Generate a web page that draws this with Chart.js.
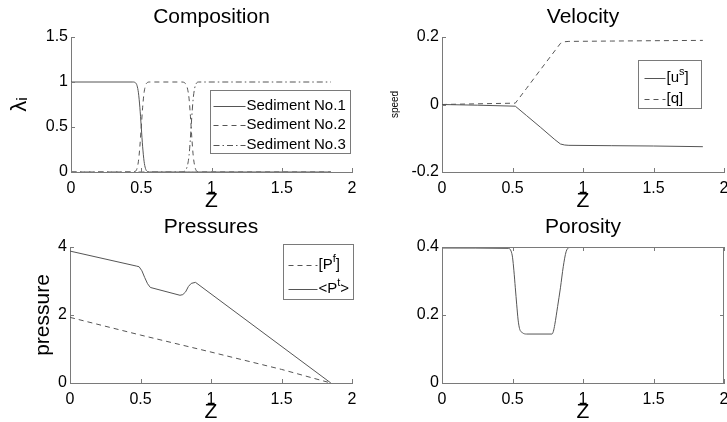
<!DOCTYPE html>
<html><head><meta charset="utf-8">
<script src="https://cdn.jsdelivr.net/npm/chart.js@4.4.1/dist/chart.umd.min.js"></script>
<style>
html,body{margin:0;padding:0;background:#fff;width:727px;height:422px;overflow:hidden}
.p{position:absolute}
canvas{display:block}
</style></head><body>
<div class="p" style="left:0;top:0;width:363px;height:211px"><canvas id="c1" width="363" height="211" style="width:363px;height:211px"></canvas></div>
<div class="p" style="left:363px;top:0;width:364px;height:211px"><canvas id="c2" width="364" height="211" style="width:364px;height:211px"></canvas></div>
<div class="p" style="left:0;top:211px;width:363px;height:211px"><canvas id="c3" width="363" height="211" style="width:363px;height:211px"></canvas></div>
<div class="p" style="left:363px;top:211px;width:364px;height:211px"><canvas id="c4" width="364" height="211" style="width:364px;height:211px"></canvas></div>
<script>
// ---------------- data ----------------
const xTicks = [0, 0.5, 1, 1.5, 2];

const compTitle = 'Composition';
const compYTicks = [0, 0.5, 1, 1.5];
const compLabels = ['Sediment No.1', 'Sediment No.2', 'Sediment No.3'];
const compZ = [0, 0.44, 0.46, 0.47, 0.48, 0.49, 0.50, 0.51, 0.52, 0.53, 0.54, 0.56, 0.79, 0.81, 0.82, 0.83, 0.84, 0.85, 0.855, 0.86, 0.87, 0.88, 0.89, 0.91, 1.85];
const sed1 = [1, 1, 0.99, 0.96, 0.88, 0.72, 0.5, 0.28, 0.12, 0.04, 0.01, 0, 0, 0, 0, 0, 0, 0, 0, 0, 0, 0, 0, 0, 0];
const sed2 = [0, 0, 0.01, 0.04, 0.12, 0.28, 0.5, 0.72, 0.88, 0.96, 0.99, 1, 1, 0.99, 0.97, 0.92, 0.82, 0.62, 0.5, 0.38, 0.18, 0.07, 0.02, 0, 0];
const sed3 = [0, 0, 0, 0, 0, 0, 0, 0, 0, 0, 0, 0, 0, 0.01, 0.03, 0.08, 0.18, 0.38, 0.5, 0.62, 0.82, 0.93, 0.98, 1, 1];

const velTitle = 'Velocity';
const velYTicks = [-0.2, 0, 0.2];
const velLabels = ['[u^s]', '[q]'];
const velZ = [0, 0.25, 0.52, 0.6, 0.7, 0.8, 0.84, 0.87, 0.9, 1.2, 1.5, 1.85];
const velUs = [0, -0.002, -0.005, -0.033, -0.068, -0.104, -0.117, -0.12, -0.121, -0.122, -0.123, -0.125];
const velQ = [0, 0.002, 0.004, 0.048, 0.104, 0.159, 0.181, 0.186, 0.187, 0.188, 0.189, 0.19];

const presTitle = 'Pressures';
const presYTicks = [0, 2, 4];
const presLabels = ['[P^f]', '<P^t>'];
const presZf = [0, 0.5, 1.0, 1.5, 1.85];
const presPf = [1.93, 1.41, 0.91, 0.4, 0];
const presZt = [0, 0.47, 0.49, 0.51, 0.53, 0.55, 0.57, 0.78, 0.80, 0.82, 0.84, 0.86, 0.89, 1.85];
const presPt = [3.88, 3.44, 3.42, 3.3, 3.1, 2.92, 2.81, 2.58, 2.6, 2.68, 2.84, 2.93, 2.96, 0];

const porTitle = 'Porosity';
const porYTicks = [0, 0.2, 0.4];
const porZ = [0, 0.47, 0.49, 0.50, 0.51, 0.52, 0.53, 0.54, 0.55, 0.57, 0.6, 0.78, 0.79, 0.80, 0.82, 0.84, 0.86, 0.88, 0.90, 0.92, 1.85];
const porPhi = [0.397, 0.396, 0.388, 0.37, 0.33, 0.28, 0.23, 0.185, 0.16, 0.148, 0.144, 0.144, 0.152, 0.172, 0.225, 0.28, 0.342, 0.386, 0.398, 0.399, 0.4];

// ---------------- style ----------------
const FONT = "'Liberation Sans', Arial, Helvetica, sans-serif";
Chart.defaults.font.family = FONT;
Chart.defaults.color = '#000';
const AXIS = '#7a7a7a';
const LINE = '#555555';
const DASH = [5, 4];
const DASHDOT = [6, 3, 1.5, 3];
const TICK_SIZE = 16;
const LABEL_SIZE = 21;

function pts(xs, ys) { return xs.map((x, i) => ({x: x, y: ys[i]})); }

function drawRich(ctx, text, x, y, size) {
  // "^c" renders c as superscript
  const parts = text.split(/\^(.)/);
  let cx = x;
  parts.forEach((p, i) => {
    if (!p) return;
    const sup = i % 2 === 1;
    ctx.font = (sup ? Math.round(size * 0.72) : size) + 'px ' + FONT;
    ctx.fillText(p, cx, sup ? y - size * 0.38 : y);
    cx += ctx.measureText(p).width;
  });
}

const matlabAxes = {
  id: 'matlabAxes',
  afterDatasetsDraw(chart, args, opts) {
    const {ctx, chartArea: a} = chart;
    const xs = chart.scales.x, ys = chart.scales.y;
    const L = 4;
    ctx.save();
    ctx.strokeStyle = AXIS;
    ctx.lineWidth = 1;
    ctx.beginPath();
    xs.ticks.forEach(t => {
      const px = Math.round(xs.getPixelForValue(t.value)) + 0.5;
      ctx.moveTo(px, a.bottom); ctx.lineTo(px, a.bottom - L);
      if (opts.box) { ctx.moveTo(px, a.top); ctx.lineTo(px, a.top + L); }
    });
    ys.ticks.forEach(t => {
      const py = Math.round(ys.getPixelForValue(t.value)) + 0.5;
      ctx.moveTo(a.left, py); ctx.lineTo(a.left + L, py);
      if (opts.box) { ctx.moveTo(a.right, py); ctx.lineTo(a.right - L, py); }
    });
    if (opts.box) {
      const t = Math.round(a.top) + 0.5, r = Math.round(a.right) - 0.5;
      ctx.moveTo(a.left, t); ctx.lineTo(r, t); ctx.lineTo(r, a.bottom);
    }
    ctx.stroke();

    const lg = opts.legend;
    if (lg) {
      const bx = Math.round(a.right - lg.right - lg.w) + 0.5;
      const by = Math.round(a.top + lg.top) + 0.5;
      ctx.fillStyle = '#fff';
      ctx.fillRect(bx, by, lg.w, lg.h);
      ctx.strokeStyle = AXIS;
      ctx.strokeRect(bx, by, lg.w, lg.h);
      chart.data.datasets.forEach((ds, i) => {
        const ry = by + lg.row0 + i * lg.gap;
        ctx.strokeStyle = ds.borderColor;
        ctx.lineWidth = 1;
        ctx.setLineDash(ds.borderDash || []);
        ctx.beginPath();
        ctx.moveTo(bx + lg.sx, Math.round(ry) + 0.5);
        ctx.lineTo(bx + lg.sx + lg.sl, Math.round(ry) + 0.5);
        ctx.stroke();
        ctx.setLineDash([]);
        ctx.fillStyle = '#000';
        ctx.textBaseline = 'middle';
        ctx.textAlign = 'left';
        drawRich(ctx, ds.label, bx + lg.sx + lg.sl + 1, ry, 15);
      });
    }
    ctx.restore();
  }
};

function line(label, xs, ys, dash, smooth) {
  return {
    label: label, data: pts(xs, ys), borderColor: LINE, borderWidth: 1,
    borderDash: dash || [], pointRadius: 0, fill: false,
    tension: 0, cubicInterpolationMode: smooth ? 'monotone' : 'default'
  };
}

function options(o) {
  return {
    responsive: false, animation: false, devicePixelRatio: 1,
    layout: {padding: {left: 0, right: o.padRight, top: 0, bottom: 0}},
    plugins: {
      legend: {display: false}, tooltip: {enabled: false},
      title: {display: true, text: o.title, fullSize: false, color: '#000',
              font: {size: LABEL_SIZE, weight: 'normal', lineHeight: 1.2}, padding: o.titlePad},
      matlabAxes: {box: !!o.box, legend: o.legend}
    },
    scales: {
      x: {
        type: 'linear', min: 0, max: 2,
        grid: {display: false, drawTicks: false}, border: {color: AXIS, width: 1},
        ticks: {font: {size: TICK_SIZE}, color: '#000', padding: 7, maxRotation: 0, autoSkip: false,
                callback: v => String(v)},
        afterBuildTicks: s => { s.ticks = xTicks.map(v => ({value: v})); },
        afterFit: s => { s.height = 39; s.paddingLeft = 0; s.paddingRight = 0; },
        title: {display: true, text: 'Z', color: '#000', font: {size: LABEL_SIZE, lineHeight: 1}, padding: {top: 0, bottom: -1}}
      },
      y: {
        type: 'linear', min: o.yTicks[0], max: o.yTicks[o.yTicks.length - 1],
        grid: {display: false, drawTicks: false}, border: {color: AXIS, width: 1},
        ticks: {font: {size: TICK_SIZE}, color: '#000', padding: 3, autoSkip: false,
                callback: v => String(v)},
        afterBuildTicks: s => { s.ticks = o.yTicks.map(v => ({value: v})); },
        afterFit: s => { s.width = o.yWidth; s.paddingTop = 0; s.paddingBottom = 0; },
        title: o.yTitle ? {display: true, text: o.yTitle, color: '#000',
                           font: {size: o.yTitleSize, lineHeight: 1.2}, padding: {top: o.yTitlePad, bottom: 0}}
                        : {display: false}
      }
    }
  };
}

new Chart(document.getElementById('c1'), {
  type: 'line',
  data: {datasets: [
    line(compLabels[0], compZ, sed1, [], true),
    line(compLabels[1], compZ, sed2, DASH, true),
    line(compLabels[2], compZ, sed3, DASHDOT, true)
  ]},
  options: options({title: compTitle, titlePad: {top: 4.4, bottom: 7.4}, yTicks: compYTicks, yWidth: 71, padRight: 11,
    yTitle: 'λᵢ', yTitleSize: 22, yTitlePad: 7,
    legend: {right: 2, top: 53, w: 140, h: 63, row0: 15, gap: 19.5, sx: 3, sl: 32}}),
  plugins: [matlabAxes]
});

new Chart(document.getElementById('c2'), {
  type: 'line',
  data: {datasets: [
    line(velLabels[0], velZ, velUs, []),
    line(velLabels[1], velZ, velQ, DASH)
  ]},
  options: options({title: velTitle, titlePad: {top: 4.4, bottom: 7.4}, yTicks: velYTicks, yWidth: 79, padRight: 3,
    yTitle: 'speed', yTitleSize: 10, yTitlePad: 26,
    legend: {right: 23, top: 23, w: 63, h: 48, row0: 17, gap: 21, sx: 6, sl: 21}}),
  plugins: [matlabAxes]
});

new Chart(document.getElementById('c3'), {
  type: 'line',
  data: {datasets: [
    line(presLabels[0], presZf, presPf, DASH),
    line(presLabels[1], presZt, presPt, [])
  ]},
  options: options({title: presTitle, titlePad: {top: 3.2, bottom: 7.6}, yTicks: presYTicks, yWidth: 70, padRight: 11,
    yTitle: 'pressure', yTitleSize: LABEL_SIZE, yTitlePad: 30.5,
    legend: {right: -1, top: -3, w: 70, h: 55, row0: 20, gap: 24, sx: 5, sl: 29}}),
  plugins: [matlabAxes]
});

new Chart(document.getElementById('c4'), {
  type: 'line',
  data: {datasets: [
    line('porosity', porZ, porPhi, [], true)
  ]},
  options: options({title: porTitle, titlePad: {top: 3.2, bottom: 7.6}, yTicks: porYTicks, yWidth: 79, padRight: 3,
    yTitle: null, box: true}),
  plugins: [matlabAxes]
});
</script>
</body></html>
